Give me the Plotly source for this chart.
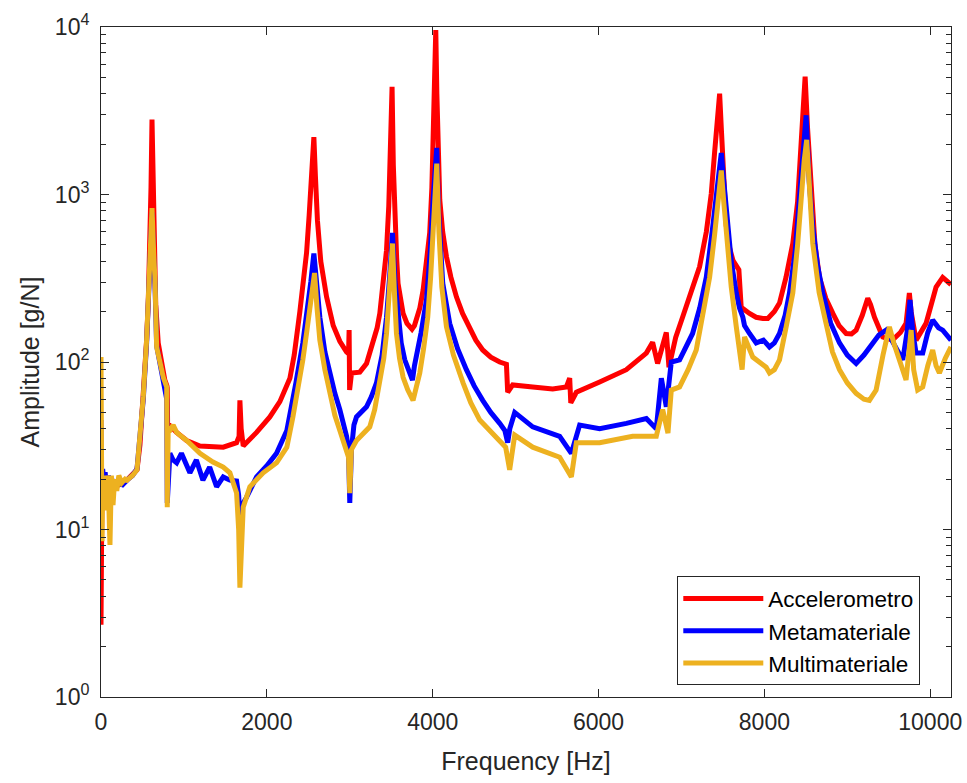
import plotly.graph_objects as go

# ---------------- data ----------------
red_f = [0, 12, 50, 100, 160, 220, 300, 360, 434, 470, 510, 550, 570, 590, 603, 615, 627, 640, 660, 690, 730, 770, 795, 799, 803, 830, 868, 912, 1033, 1193, 1350, 1474, 1635, 1665, 1675, 1690, 1715, 1876, 2036, 2157, 2278, 2330, 2398, 2440, 2479, 2510, 2539, 2553, 2567, 2585, 2610, 2650, 2720, 2800, 2880, 2960, 2985, 2992, 2998, 3021, 3121, 3202, 3278, 3330, 3362, 3400, 3443, 3470, 3490, 3510, 3525, 3543, 3565, 3582, 3610, 3643, 3690, 3724, 3750, 3780, 3804, 3845, 3884, 3925, 3964, 3990, 4010, 4025, 4037, 4050, 4068, 4085, 4120, 4166, 4220, 4286, 4360, 4446, 4520, 4603, 4700, 4808, 4875, 4889, 4904, 4965, 5206, 5447, 5612, 5652, 5665, 5732, 6013, 6335, 6576, 6652, 6712, 6817, 6849, 6930, 7013, 7120, 7218, 7300, 7359, 7400, 7440, 7460, 7480, 7500, 7540, 7580, 7620, 7692, 7720, 7820, 7900, 7981, 8041, 8120, 8182, 8260, 8342, 8400, 8443, 8470, 8491, 8520, 8563, 8610, 8664, 8740, 8825, 8900, 8986, 9050, 9106, 9180, 9246, 9280, 9327, 9427, 9544, 9640, 9708, 9748, 9769, 9829, 9949, 10070, 10150, 10250]
red_v = [2.7, 19, 20, 18, 19, 18.5, 19.5, 21, 22.7, 32, 60, 135, 230, 500, 1100, 2800, 1100, 500, 220, 130, 95, 78, 72, 70, 43, 42, 40, 38, 34, 31.5, 31, 31, 33, 36, 59, 40, 31.5, 38, 47, 58, 80, 110, 200, 290, 450, 750, 1350, 1750, 2200, 1300, 700, 400, 245, 165, 133, 115, 112, 155, 68, 86, 87, 98, 130, 160, 195, 280, 465, 850, 1800, 4400, 1500, 735, 420, 295, 240, 195, 170, 160, 157, 165, 178, 210, 268, 380, 590, 1100, 2500, 5000, 9600, 4000, 1800, 930, 600, 425, 320, 245, 195, 162, 135, 118, 107, 100, 96, 97, 66, 73, 71, 69, 71, 80, 57, 66, 76, 90, 113, 131, 98, 150, 93, 140, 185, 260, 370, 600, 1010, 1800, 3000, 4000, 2500, 1400, 650, 480, 405, 355, 212, 195, 185, 182, 182, 200, 225, 320, 510, 900, 2030, 3500, 5060, 2500, 1010, 500, 320, 240, 195, 165, 148, 147, 155, 190, 240, 220, 185, 141, 135, 150, 170, 258, 200, 135, 170, 280, 320, 290]

blue_f = [0, 8, 20, 35, 50, 70, 90, 110, 130, 160, 200, 260, 313, 380, 434, 470, 510, 550, 575, 595, 615, 635, 651, 671, 711, 751, 792, 799, 815, 831, 870, 912, 970, 1033, 1072, 1150, 1229, 1310, 1394, 1474, 1554, 1635, 1660, 1675, 1700, 1756, 1876, 2000, 2117, 2241, 2278, 2350, 2434, 2480, 2530, 2567, 2600, 2639, 2700, 2759, 2820, 2880, 2961, 2985, 3000, 3020, 3050, 3081, 3202, 3260, 3322, 3390, 3443, 3480, 3515, 3545, 3582, 3620, 3663, 3710, 3756, 3780, 3804, 3860, 3925, 3970, 4004, 4030, 4049, 4070, 4121, 4205, 4300, 4406, 4500, 4603, 4700, 4808, 4870, 4904, 4930, 4989, 5206, 5531, 5672, 5772, 6013, 6335, 6576, 6696, 6757, 6817, 6877, 6977, 7050, 7134, 7220, 7299, 7370, 7420, 7460, 7480, 7510, 7540, 7600, 7661, 7700, 7740, 7760, 7820, 7901, 7988, 8061, 8120, 8182, 8250, 8302, 8370, 8423, 8470, 8503, 8540, 8583, 8640, 8704, 8800, 8905, 9000, 9106, 9200, 9306, 9380, 9467, 9550, 9668, 9720, 9756, 9790, 9829, 9909, 9970, 10029, 10100, 10150, 10250]
blue_v = [45, 15, 23, 19, 22, 17, 21, 16, 20, 18, 19, 18.5, 19.7, 21, 23, 34, 60, 130, 240, 480, 780, 420, 290, 125, 95, 78, 60, 14.4, 22, 28.5, 26, 25, 28.5, 24, 21.8, 26, 19.7, 23.6, 18, 20.6, 19.7, 19.5, 16, 11.4, 14, 15.6, 20.6, 24, 28.5, 39, 48, 75, 130, 190, 300, 445, 290, 185, 115, 86, 65, 52, 36, 30, 14.4, 30, 42, 47, 54, 62, 75, 110, 185, 320, 590, 300, 185, 130, 103, 88, 78, 95, 107, 150, 235, 450, 930, 1500, 1900, 800, 295, 170, 120, 90, 72, 59, 50, 43, 39, 33, 40, 50, 41, 36, 28.5, 42, 40, 43, 46, 40, 80, 54, 100, 103, 120, 148, 210, 320, 600, 1010, 1500, 1770, 1200, 800, 400, 258, 210, 185, 165, 148, 130, 135, 123, 130, 148, 190, 258, 450, 1010, 2000, 2970, 1200, 640, 380, 258, 170, 130, 110, 98, 110, 130, 145, 155, 130, 103, 150, 235, 150, 113, 113, 150, 178, 160, 155, 135]

yel_f = [0, 5, 12, 20, 30, 40, 55, 70, 90, 108, 125, 145, 165, 190, 215, 250, 290, 313, 380, 434, 470, 510, 550, 575, 595, 615, 635, 651, 671, 711, 751, 792, 799, 810, 831, 870, 912, 970, 1033, 1193, 1350, 1474, 1554, 1635, 1660, 1675, 1695, 1715, 1795, 1956, 2117, 2241, 2314, 2380, 2434, 2480, 2518, 2550, 2575, 2605, 2639, 2700, 2759, 2820, 2880, 2961, 2985, 3000, 3020, 3081, 3160, 3241, 3300, 3362, 3410, 3443, 3480, 3515, 3540, 3563, 3600, 3643, 3700, 3763, 3800, 3844, 3890, 3940, 3975, 4004, 4030, 4049, 4075, 4110, 4166, 4250, 4366, 4460, 4567, 4680, 4808, 4880, 4928, 4989, 5206, 5531, 5672, 5732, 6013, 6411, 6696, 6773, 6837, 6877, 6977, 7080, 7178, 7260, 7339, 7400, 7440, 7480, 7510, 7540, 7600, 7661, 7700, 7731, 7760, 7860, 8021, 8061, 8120, 8182, 8260, 8342, 8400, 8443, 8480, 8510, 8545, 8583, 8660, 8745, 8820, 8905, 9000, 9106, 9200, 9266, 9347, 9430, 9507, 9560, 9628, 9708, 9769, 9800, 9848, 9909, 9970, 10029, 10070, 10110, 10180, 10250]
yel_v = [107, 60, 8.5, 20, 15, 21, 13, 21, 17, 8.1, 21, 14, 20, 17, 21, 19, 20, 19.7, 21, 22.7, 35.6, 62, 135, 250, 500, 830, 450, 310, 123, 98, 81, 71, 13.6, 39, 39, 42, 38, 36, 34, 28.5, 25.3, 23.6, 21.8, 16.5, 10, 4.5, 10, 13.6, 18, 21.8, 25, 31, 47, 70, 103, 150, 212, 290, 340, 210, 135, 90, 65, 48, 39, 30, 27, 16.5, 30, 34, 37, 41, 52, 75, 105, 148, 260, 510, 250, 148, 105, 81, 68, 59, 70, 86, 120, 185, 320, 590, 1100, 1530, 600, 280, 162, 110, 75, 57, 45, 39, 34, 31, 22.7, 36.6, 31, 27, 20.6, 33, 33, 36, 36, 52, 37.6, 68, 71, 90, 118, 190, 320, 580, 930, 1390, 900, 590, 280, 162, 120, 90, 141, 107, 93, 86, 90, 103, 160, 258, 500, 1010, 1600, 2120, 900, 510, 260, 162, 115, 90, 75, 65, 60, 59, 68, 110, 162, 130, 103, 78, 155, 90, 68, 71, 95, 118, 95, 86, 105, 123]

names = ["Accelerometro", "Metamateriale", "Multimateriale"]
colors = ["#FF0000", "#0000FF", "#EDB120"]

x_ticks = [0, 2000, 4000, 6000, 8000, 10000]
y_ticks = [1, 10, 100, 1000, 10000]
y_ticktext = ["10<sup>0</sup>", "10<sup>1</sup>", "10<sup>2</sup>", "10<sup>3</sup>", "10<sup>4</sup>"]
y_minor = [m * 10 ** k for k in range(4) for m in range(2, 10)]

FONT = "Liberation Sans, Arial, Helvetica, sans-serif"
AX = "#262626"

fig = go.Figure()
for f, v, n, c in zip([red_f, blue_f, yel_f], [red_v, blue_v, yel_v], names, colors):
    fig.add_trace(go.Scatter(x=f, y=v, mode="lines", name=n,
                             line=dict(color=c, width=5)))

fig.update_layout(
    width=967, height=783,
    margin=dict(l=101, r=16, t=27, b=86),
    paper_bgcolor="white", plot_bgcolor="white",
    font=dict(family=FONT, color=AX, size=22),
    legend=dict(x=0.678, y=0.18, xanchor="left", yanchor="top",
                bordercolor=AX, borderwidth=1, bgcolor="white",
                font=dict(size=22.5, color="black"), itemwidth=80,
                tracegroupgap=0),
    showlegend=True,
)
fig.update_xaxes(
    range=[0, 10250], tickvals=x_ticks, tickformat="d", automargin=False,
    ticks="inside", ticklen=8, tickcolor=AX, showline=True, linecolor=AX,
    linewidth=1, mirror="allticks", showgrid=False, zeroline=False,
    ticklabelstandoff=4,
    title=dict(text="Frequency [Hz]", font=dict(size=25), standoff=18),
    tickfont=dict(size=23),
)
fig.update_yaxes(
    type="log", range=[0, 4], tickvals=y_ticks, ticktext=y_ticktext, automargin=False,
    ticks="inside", ticklen=8, tickcolor=AX, showline=True, linecolor=AX,
    linewidth=1, mirror="allticks", showgrid=False, zeroline=False,
    ticklabelstandoff=6,
    minor=dict(tickvals=y_minor, ticks="inside", ticklen=5, tickcolor=AX, showgrid=False),
    title=dict(text="Amplitude [g/N]", font=dict(size=25), standoff=8),
    tickfont=dict(size=23),
)

fig.write_html("out.html", config={"displayModeBar": False},
               post_script="document.body.style.margin='0';document.body.style.overflow='hidden';")
